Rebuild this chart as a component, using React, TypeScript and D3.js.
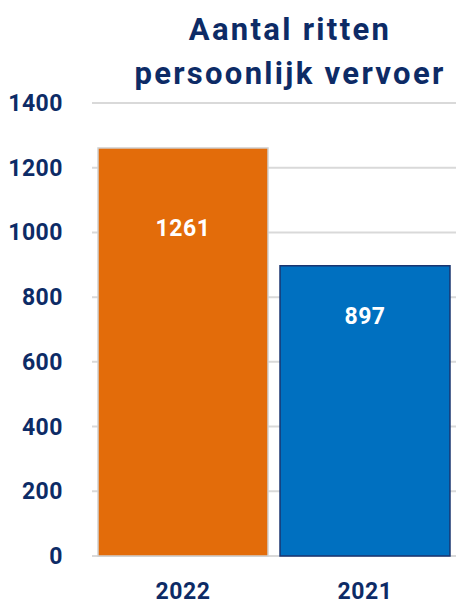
import React from 'react';
import * as d3 from 'd3';

const categories = ['2022', '2021'];
const values = [1261, 897];
const yTicks = [0, 200, 400, 600, 800, 1000, 1200, 1400];
const titleLines = ['Aantal ritten', 'persoonlijk vervoer'];

const width = 456;
const height = 604;
const navy = '#0d2b66';
const font = 'Roboto, "DejaVu Sans", sans-serif';

const App = () => {
  const x = d3.scaleBand()
    .domain(categories)
    .range([92, 456])
    .paddingInner(0.066)
    .paddingOuter(0.033);

  const y = d3.scaleLinear()
    .domain([0, 1400])
    .range([556, 103]);

  const fills = ['#e36c0a', '#0070c0'];
  const strokes = ['#d0d0d0', '#1a3570'];

  // value label sits a bit lower in taller bars
  const labelY = (v: number) => {
    const h = y(0) - y(v);
    return y(v) + 0.254 * h - 24;
  };

  return (
    <svg width={width} height={height} style={{ position: 'absolute', left: 0, top: 0 }}
      fontFamily={font}>
      <g>
        {titleLines.map((t, i) => (
          <text key={t} x={290} y={40 + i * 44} textAnchor="middle" fontSize={31}
            fontWeight="bold" letterSpacing={2.3} fill={navy}>{t}</text>
        ))}
      </g>
      {/* gridlines */}
      {yTicks.map(t => (
        <line key={t} x1={92} x2={456} y1={y(t)} y2={y(t)} stroke="#d9d9d9" strokeWidth={2} />
      ))}
      {yTicks.map(t => (
        <text key={'l' + t} x={63} y={y(t)} dy="0.35em" textAnchor="end" fontSize={23}
          fontWeight="bold" letterSpacing={0.5} fill={navy}>{t}</text>
      ))}
      {categories.map((c, i) => (
        <g key={c}>
          <rect x={x(c)} y={y(values[i])} width={x.bandwidth()} height={y(0) - y(values[i])}
            fill={fills[i]} stroke={strokes[i]} strokeWidth={1.5} />
          <text x={x(c)! + x.bandwidth() / 2} y={labelY(values[i])} dy="0.35em"
            textAnchor="middle" fontSize={23} fontWeight="bold" letterSpacing={0.5}
            fill="#fff">{values[i]}</text>
          <text x={x(c)! + x.bandwidth() / 2} y={599} textAnchor="middle"
            fontSize={23} fontWeight="bold" letterSpacing={0.5} fill={navy}>{c}</text>
        </g>
      ))}
    </svg>
  );
};

export default App;
